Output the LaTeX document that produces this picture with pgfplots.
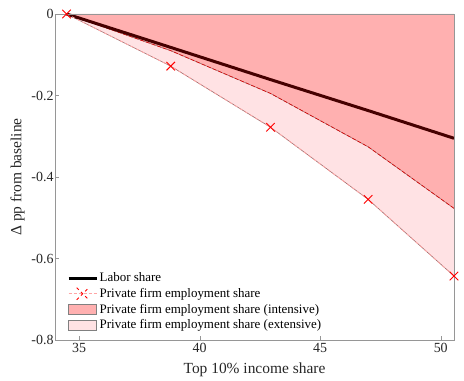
\documentclass[border=0pt]{standalone}
\usepackage{fontspec}
\setmainfont{Liberation Serif}
\usepackage{pgfplots}
\pgfplotsset{compat=1.18}
\definecolor{intens}{RGB}{255,176,176}
\definecolor{extens}{RGB}{255,226,228}
\definecolor{labor}{RGB}{70,0,0}
\definecolor{edgeg}{RGB}{160,105,105}
\definecolor{axgray}{RGB}{150,150,150}
\definecolor{pinkline}{RGB}{255,165,165}
\begin{document}
\begin{tikzpicture}
\begin{axis}[name=ax, scale only axis, width=399bp, height=326bp,
 xmin=34, xmax=50.55, ymin=-0.8, ymax=0,
 xtick={35,40,45,50}, ytick={-0.8,-0.6,-0.4,-0.2,0},
 yticklabels={-0.8,-0.6,-0.4,-0.2,0},
 tick align=inside, xtick pos=bottom, ytick pos=left,
 major tick length=4bp,
 axis line style={axgray}, tick style={axgray},
 axis on top,
 ticklabel style={font=\fontsize{14}{16}\selectfont, text=black!85},
 yticklabel style={xshift=2bp},
 /pgf/number format/assume math mode=true,
 xlabel={Top 10\% income share}, ylabel={Δ pp from baseline},
 label style={font=\fontsize{15.5}{18}\selectfont, text=black!85},
 xlabel style={yshift=-3bp},
 legend cell align=left,
 legend style={draw=none, fill=none, at={(0,0)}, anchor=south west,
   xshift=9bp, yshift=6bp,
   font=\fontsize{13}{15}\selectfont, row sep=2bp,
   nodes={inner sep=1.5bp}},
]
% intensive area
\addplot[fill=intens, draw=none, forget plot] coordinates {
 (34.48,0) (50.55,0) (50.55,-0.477) (46.99,-0.326) (42.94,-0.195) (38.80,-0.090) (34.48,0)} -- cycle;
% extensive area
\addplot[fill=extens, draw=none, forget plot] coordinates {
 (34.48,0) (38.80,-0.090) (42.94,-0.195) (46.99,-0.326) (50.55,-0.477)
 (50.55,-0.643) (46.99,-0.455) (42.94,-0.278) (38.80,-0.128) (34.48,0)} -- cycle;
% area edges
\addplot[edgeg, line width=0.6bp, forget plot] coordinates {
 (34.48,0) (38.80,-0.090) (42.94,-0.195) (46.99,-0.326) (50.55,-0.477)};
\addplot[red!85!black, line width=0.6bp, dash pattern=on 4bp off 2bp, forget plot] coordinates {
 (34.48,0) (38.80,-0.090) (42.94,-0.195) (46.99,-0.326) (50.55,-0.477)};
\addplot[edgeg, line width=0.6bp, forget plot] coordinates {
 (34.48,0) (38.80,-0.128) (42.94,-0.278) (46.99,-0.455) (50.55,-0.643)};
% labor share
\addplot[labor, line width=3bp,
 legend image code/.code={\draw[black, line width=3bp] (0bp,0bp) -- (28bp,0bp);}]
 coordinates {(34.48,0) (38.80,-0.082) (42.94,-0.161) (46.99,-0.237) (50.55,-0.305)};
% private firm employment share
\addplot[pinkline, line width=0.8bp, dashed, mark=x, mark size=6bp,
 mark options={red, solid, line width=0.9bp},
 legend image code/.code={\draw[pinkline, line width=0.8bp, dash pattern=on 3bp off 2bp] (0bp,0bp) -- (28bp,0bp);
   \draw[red, line width=0.9bp] (8bp,-6bp) -- (20bp,6bp) (8bp,6bp) -- (20bp,-6bp);}]
 coordinates {(34.48,0) (38.80,-0.128) (42.94,-0.278) (46.99,-0.455) (50.55,-0.643)};
\addlegendimage{legend image code/.code={\draw[fill=intens, draw=gray, line width=0.6bp] (0bp,-5bp) rectangle (28bp,5bp);}}
\addlegendimage{legend image code/.code={\draw[fill=extens, draw=gray, line width=0.6bp] (0bp,-5bp) rectangle (28bp,5bp);}}
\legend{Labor share, Private firm employment share, Private firm employment share (intensive), Private firm employment share (extensive)}
\end{axis}
\path ([xshift=-55bp,yshift=-38bp]ax.south west) rectangle ([xshift=10bp,yshift=14bp]ax.north east);
\end{tikzpicture}
\end{document}
